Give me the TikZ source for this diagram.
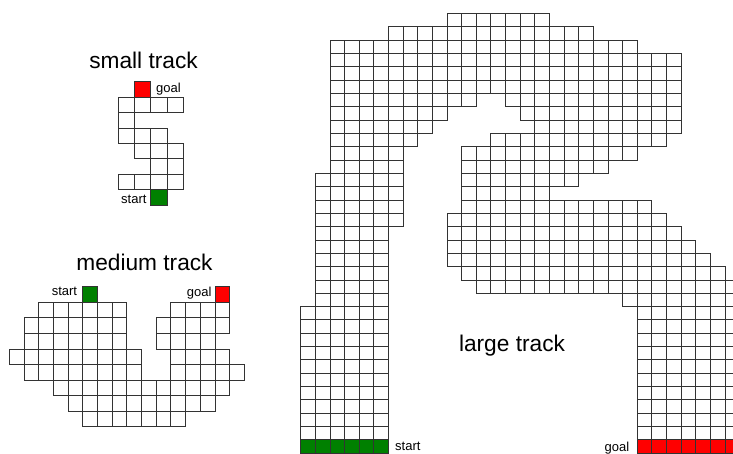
\documentclass[tikz,border=0pt]{standalone}
\usepackage{fontspec}
\setmainfont{Liberation Sans}
\usepackage{tikz}
\usetikzlibrary{positioning}
\tikzstyle{cell} = [draw=black!80, line width=0.8pt, fill=white]
\tikzstyle{startcell} = [cell, fill=green!50!black]
\tikzstyle{goalcell} = [cell, fill=red]
\tikzstyle{tracktitle} = [font=\fontsize{22.7}{27}\selectfont, inner sep=0pt]
\tikzstyle{celllabel} = [font=\fontsize{13}{15}\selectfont, inner sep=0pt]

\begin{document}
\begin{tikzpicture}[x=1pt, y=-1pt]
    \useasboundingbox (0,0) rectangle (733,453);
    \clip (0,0) rectangle (733,453);

    % Small track
    \begin{scope}[shift={(118.3,81.7)}, x=16.25pt, y=-15.4pt]
        \foreach \r/\a/\b in {1/0/3, 2/0/0, 3/0/2, 4/1/3, 5/2/3, 6/0/3}
            \foreach \c in {\a,...,\b}
                \draw[cell] (\c,\r) rectangle ++(1,1);
        \draw[goalcell] (1,0) rectangle ++(1,1);
        \draw[startcell] (2,7) rectangle ++(1,1);
    \end{scope}
    \node[tracktitle, anchor=base] (smalltitle) at (143.5,68) {small track};
    \node[celllabel, anchor=base west] (smallgoal) at (156,92.8) {goal};
    \node[celllabel, anchor=base east] (smallstart) at (146.7,203.3) {start};

    % Medium track
    \begin{scope}[shift={(9.3,286.7)}, x=14.69pt, y=-15.55pt]
        \foreach \r/\a/\b in {1/2/7, 1/11/14, 2/1/7, 2/10/14, 3/1/7, 3/10/13,
                              4/0/8, 4/11/14, 5/1/8, 5/11/15, 6/3/14, 7/4/13, 8/5/11}
            \foreach \c in {\a,...,\b}
                \draw[cell] (\c,\r) rectangle ++(1,1);
        \draw[startcell] (5,0) rectangle ++(1,1);
        \draw[goalcell] (14,0) rectangle ++(1,1);
    \end{scope}
    \node[tracktitle, anchor=base] (mediumtitle) at (144.5,270) {medium track};
    \node[celllabel, anchor=base east] (mediumstart) at (77.3,295.7) {start};
    \node[celllabel, anchor=base west] (mediumgoal) at (186.7,296) {goal};

    % Large track
    \begin{scope}[shift={(300.7,13.3)}, x=14.63pt, y=-13.33pt]
        \foreach \r/\a/\b in {0/10/16, 1/6/19, 2/2/22, 3/2/25, 4/2/25, 5/2/25,
                              6/2/11, 6/14/25, 7/2/9, 7/15/25, 8/2/8, 8/16/25,
                              9/2/7, 9/13/24, 10/2/6, 10/11/22, 11/2/6, 11/11/20,
                              12/1/6, 12/11/18, 13/1/6, 13/11/16, 14/1/6, 14/11/23,
                              15/1/6, 15/10/24, 16/1/5, 16/10/25, 17/1/5, 17/10/26,
                              18/1/5, 18/10/27, 19/1/5, 19/11/28, 20/1/5, 20/12/29,
                              21/1/5, 21/22/29}
            \foreach \c in {\a,...,\b}
                \draw[cell] (\c,\r) rectangle ++(1,1);
        \foreach \r in {22,...,31}
            \foreach \a/\b in {0/5, 23/29}
                \foreach \c in {\a,...,\b}
                    \draw[cell] (\c,\r) rectangle ++(1,1);
        \foreach \c in {0,...,5}
            \draw[startcell] (\c,32) rectangle ++(1,1);
        \foreach \c in {23,...,29}
            \draw[goalcell] (\c,32) rectangle ++(1,1);
    \end{scope}
    \node[tracktitle, anchor=base] (largetitle) at (512,351.5) {large track};
    \node[celllabel, anchor=base west] (largestart) at (395,450) {start};
    \node[celllabel, anchor=base east] (largegoal) at (629.5,451.2) {goal};
\end{tikzpicture}
\end{document}
